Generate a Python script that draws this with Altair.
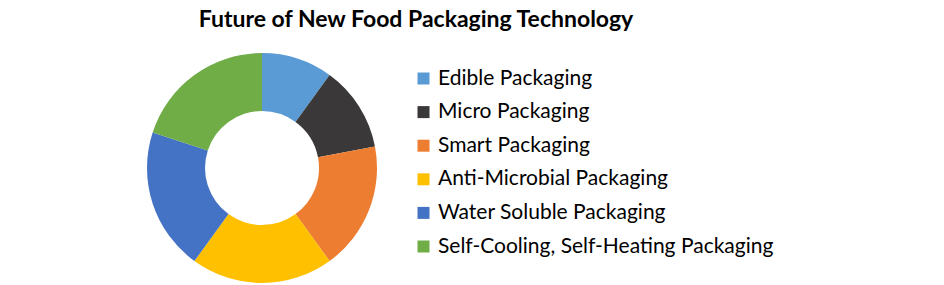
import altair as alt
import pandas as pd

categories = ["Edible Packaging", "Micro Packaging", "Smart Packaging",
              "Anti-Microbial Packaging", "Water Soluble Packaging",
              "Self-Cooling, Self-Heating Packaging"]
shares = [10, 12, 18, 20, 20, 20]
colors = ["#5B9BD5", "#3A3838", "#ED7D31", "#FFC000", "#4472C4", "#70AD47"]

df = pd.DataFrame({"category": categories, "share": shares,
                   "order": list(range(len(categories)))})

chart = alt.Chart(df).mark_arc(innerRadius=57, outerRadius=115).encode(
    theta=alt.Theta("share:Q", stack=True),
    order=alt.Order("order:Q"),
    color=alt.Color("category:N",
                    scale=alt.Scale(domain=categories, range=colors),
                    legend=alt.Legend(title=None, orient="none",
                                      legendX=413, legendY=68,
                                      symbolType="square", symbolSize=144,
                                      symbolStrokeWidth=0,
                                      labelFontSize=21, labelFont="Lato",
                                      labelColor="#000000",
                                      labelOffset=4, rowPadding=11.6,
                                      labelLimit=500)),
    x=alt.value(262),
    y=alt.value(168),
).properties(
    width=944, height=285,
    autosize=alt.AutoSizeParams(type="none"),
    padding=0,
    title=alt.TitleParams("Future of New Food Packaging Technology",
                          font="Lato", fontSize=23, fontWeight="bold",
                          color="#000000", anchor="middle", dx=-56, dy=36),
).configure_view(stroke=None)

chart.save("out.html", embed_options={"renderer": "svg", "actions": False})
